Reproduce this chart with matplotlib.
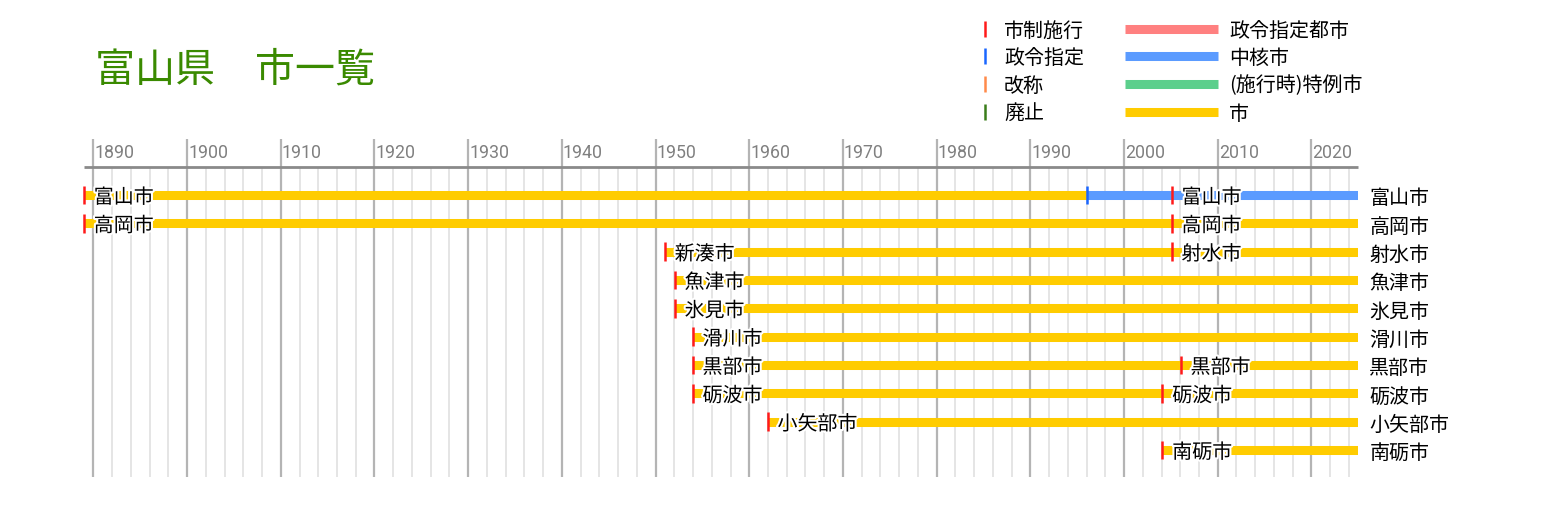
import matplotlib
matplotlib.use('Agg')
import matplotlib.pyplot as plt
import matplotlib.patheffects as pe

plt.rcParams['font.family'] = ['Noto Sans CJK JP', 'DejaVu Sans']

# 現在の市（行ごと）
cities = ['富山市', '高岡市', '射水市', '魚津市', '氷見市', '滑川市', '黒部市', '砺波市', '小矢部市', '南砺市']

# 期間（行, 開始, 終了, 種類）
seg_row = [0, 0, 1, 2, 3, 4, 5, 6, 7, 8, 9]
seg_start = [1889.0, 1996.05, 1889.0, 1951.0, 1952.05, 1952.05, 1953.97, 1953.97, 1953.97, 1961.97, 2004.1]
seg_end = [1996.05, 2025, 2025, 2025, 2025, 2025, 2025, 2025, 2025, 2025, 2025]
seg_type = ['市', '中核市', '市', '市', '市', '市', '市', '市', '市', '市', '市']

# できごと（行, 年, 種類, 名前）
ev_row = [0, 0, 0, 1, 1, 2, 2, 3, 4, 5, 6, 6, 7, 7, 8, 9]
ev_year = [1889.0, 1996.05, 2005.1, 1889.0, 2005.1, 1951.0, 2005.1, 1952.05, 1952.05,
           1953.97, 1953.97, 2006.06, 1953.97, 2004.1, 1961.97, 2004.1]
ev_type = ['市制施行', '政令指定', '市制施行', '市制施行', '市制施行', '市制施行', '市制施行', '市制施行',
           '市制施行', '市制施行', '市制施行', '市制施行', '市制施行', '市制施行', '市制施行', '市制施行']
ev_label = ['富山市', '', '富山市', '高岡市', '高岡市', '新湊市', '射水市', '魚津市', '氷見市',
            '滑川市', '黒部市', '黒部市', '砺波市', '砺波市', '小矢部市', '南砺市']

seg_colors = {'政令指定都市': '#ff8080', '中核市': '#5b9bff', '(施行時)特例市': '#5ccf8c', '市': '#ffcc00'}
ev_colors = {'市制施行': '#ff1a1a', '政令指定': '#1a66ff', '改称': '#ff8a4a', '廃止': '#3a7d1a'}

year_min, year_max = 1889, 2025

W, H = 1547, 506
fig = plt.figure(figsize=(W / 100, H / 100), dpi=100)

# 行の配置（ピクセル）
top_px, bottom_px, row0_px, row_step = 168, 478, 196, 28.33
y_top = (top_px - row0_px) / row_step
y_bot = (bottom_px - row0_px) / row_step
ax = fig.add_axes([84 / W, 1 - bottom_px / H, (1358.3 - 84) / W, (bottom_px - top_px) / H])
ax.set_xlim(year_min, year_max)
ax.set_ylim(y_bot, y_top)
ax.axis('off')

# グリッド
y_label_top = (140 - row0_px) / row_step
for yr in range(1890, year_max, 2):
    if yr % 10 == 0:
        ax.vlines(yr, y_bot, y_label_top, color='#b4b4b4', lw=1.6, clip_on=False, zorder=1)
        ax.text(yr + 0.1, (153 - row0_px) / row_step, str(yr), color='#808080', fontsize=12.8,
                family='Roboto', ha='left', va='center', clip_on=False)
    else:
        ax.vlines(yr, y_bot, y_top, color='#e0e0e0', lw=1.2, zorder=0)
ax.hlines(y_top, year_min, year_max, color='#8a8a8a', lw=2, clip_on=False, zorder=2)

# 期間の帯
for r, s, e, t in zip(seg_row, seg_start, seg_end, seg_type):
    ax.hlines(r, s, e, color=seg_colors[t], lw=6.5, zorder=3)

stroke = [pe.withStroke(linewidth=3, foreground='white')]

# できごと
for r, yr, t, lab in zip(ev_row, ev_year, ev_type, ev_label):
    ax.vlines(yr, r - 0.33, r + 0.33, color=ev_colors[t], lw=1.8, zorder=5, clip_on=False)
    if lab:
        ax.annotate(lab, (yr, r), xytext=(7, -2), textcoords='offset points', fontsize=14.4,
                    ha='left', va='center', zorder=6, path_effects=stroke)

# 右側の市名
for i, c in enumerate(cities):
    ax.annotate(c, (year_max, i), xytext=(8, -2), textcoords='offset points', fontsize=14.4,
                ha='left', va='center', annotation_clip=False)

# タイトル
fig.text(95 / W, 1 - 71 / H, '富山県\u3000市一覧', color='#3a8a00', fontsize=28.8,
         ha='left', va='center', family='Noto Sans CJK JP')

# 凡例
lg = fig.add_axes([0, 0, 1, 1])
lg.set_xlim(0, W)
lg.set_ylim(H, 0)
lg.axis('off')
leg_y = [30, 57, 85, 113]
for y, (name, col) in zip(leg_y, ev_colors.items()):
    lg.vlines(985, y - 8, y + 8, color=col, lw=1.8)
    lg.text(1004, y + 1, name, fontsize=14.4, ha='left', va='center')
for y, (name, col) in zip(leg_y, seg_colors.items()):
    lg.hlines(y, 1125, 1218, color=col, lw=6.5)
    lg.text(1229, y + 1, name, fontsize=14.4, ha='left', va='center')

fig.savefig('out.png', dpi=100)
